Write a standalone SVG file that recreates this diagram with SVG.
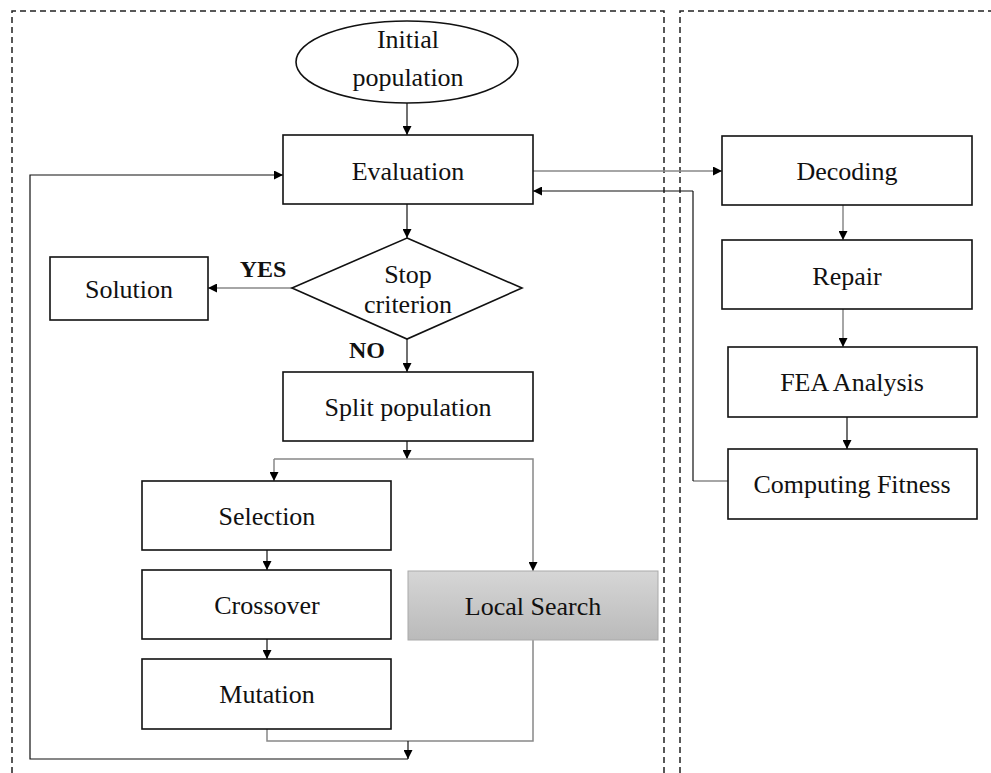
<svg xmlns="http://www.w3.org/2000/svg" width="991" height="773" viewBox="0 0 991 773">
<defs>
<marker id="ah" viewBox="0 0 10 10" refX="10" refY="5" markerWidth="9" markerHeight="9" markerUnits="userSpaceOnUse" orient="auto"><path d="M0,0 L10,5 L0,10 z" fill="#000"/></marker>
<linearGradient id="lsg" x1="0" y1="0" x2="0" y2="1"><stop offset="0" stop-color="#d6d6d6"/><stop offset="1" stop-color="#bababa"/></linearGradient>
</defs>
<style>
.panel{fill:none;stroke:#222;stroke-width:1.5;stroke-dasharray:6 4}
.box{fill:#fff;stroke:#111;stroke-width:1.6}
.t{font-family:"Liberation Serif","Times New Roman",serif;font-size:26px;fill:#111;text-anchor:middle}
.b{font-family:"Liberation Serif","Times New Roman",serif;font-size:24px;font-weight:bold;fill:#111;text-anchor:middle}
.c{fill:none;stroke:#111;stroke-width:1.2}
.g{fill:none;stroke:#888;stroke-width:1.5}
</style>
<rect width="991" height="773" fill="#fff"/>
<g id="panels">
<path class="panel" d="M12,773 V11 H664 V773"/>
<path class="panel" d="M680,773 V11 H991"/>
</g>
<g id="connectors">
<path class="c" d="M407,103 V135" marker-end="url(#ah)"/>
<path class="c" d="M407,204 V238" marker-end="url(#ah)"/>
<path class="g" d="M292,288 H208" marker-end="url(#ah)"/>
<path class="c" d="M407,339 V372" marker-end="url(#ah)"/>
<path class="c" d="M407,441 V459" marker-end="url(#ah)"/>
<path class="g" d="M274,459 H533 V571" marker-end="url(#ah)"/>
<path class="g" d="M274,459 V481" marker-end="url(#ah)"/>
<path class="c" d="M267,550 V570" marker-end="url(#ah)"/>
<path class="c" d="M267,639 V659" marker-end="url(#ah)"/>
<path class="g" d="M267,729 V741 H533 V640"/>
<path class="c" d="M408,741 V759" marker-end="url(#ah)"/>
<path class="c" d="M408,759 H30 V175 H283" marker-end="url(#ah)"/>
<path class="g" d="M533,171 H722" marker-end="url(#ah)"/>
<path class="c" d="M693,191 H533" marker-end="url(#ah)"/>
<path class="g" d="M728,481 H693"/>
<path class="c" d="M693,481 V191"/>
<path class="g" d="M843,205 V240" marker-end="url(#ah)"/>
<path class="g" d="M843,309 V347" marker-end="url(#ah)"/>
<path class="c" d="M847,417 V449" marker-end="url(#ah)"/>
</g>
<g id="initial">
<ellipse class="box" cx="407" cy="62" rx="111" ry="41"/>
<text class="t" x="408" y="48">Initial</text>
<text class="t" x="408" y="86">population</text>
</g>
<g id="evaluation">
<rect class="box" x="283" y="135" width="250" height="69"/>
<text class="t" x="408" y="180">Evaluation</text>
</g>
<g id="stop">
<polygon class="box" points="407,238 522,288 407,339 292,288"/>
<text class="t" x="408" y="283">Stop</text>
<text class="t" x="408" y="313">criterion</text>
</g>
<g id="solution">
<rect class="box" x="50" y="257" width="158" height="63"/>
<text class="t" x="129" y="298">Solution</text>
</g>
<g id="labels">
<text class="b" x="263" y="277">YES</text>
<text class="b" x="367" y="358">NO</text>
</g>
<g id="split">
<rect class="box" x="283" y="372" width="250" height="69"/>
<text class="t" x="408" y="416">Split population</text>
</g>
<g id="selection">
<rect class="box" x="142" y="481" width="249" height="69"/>
<text class="t" x="267" y="525">Selection</text>
</g>
<g id="crossover">
<rect class="box" x="142" y="570" width="249" height="69"/>
<text class="t" x="267" y="614">Crossover</text>
</g>
<g id="mutation">
<rect class="box" x="142" y="659" width="249" height="70"/>
<text class="t" x="267" y="703">Mutation</text>
</g>
<g id="localsearch">
<rect x="408" y="571" width="250" height="69" fill="url(#lsg)" stroke="#aaa" stroke-width="1"/>
<text class="t" x="533" y="615">Local Search</text>
</g>
<g id="decoding">
<rect class="box" x="722" y="136" width="250" height="69"/>
<text class="t" x="847" y="180">Decoding</text>
</g>
<g id="repair">
<rect class="box" x="722" y="240" width="250" height="69"/>
<text class="t" x="847" y="285">Repair</text>
</g>
<g id="fea">
<rect class="box" x="728" y="347" width="249" height="70"/>
<text class="t" x="852" y="391">FEA Analysis</text>
</g>
<g id="fitness">
<rect class="box" x="728" y="449" width="249" height="70"/>
<text class="t" x="852" y="493">Computing Fitness</text>
</g>
</svg>
